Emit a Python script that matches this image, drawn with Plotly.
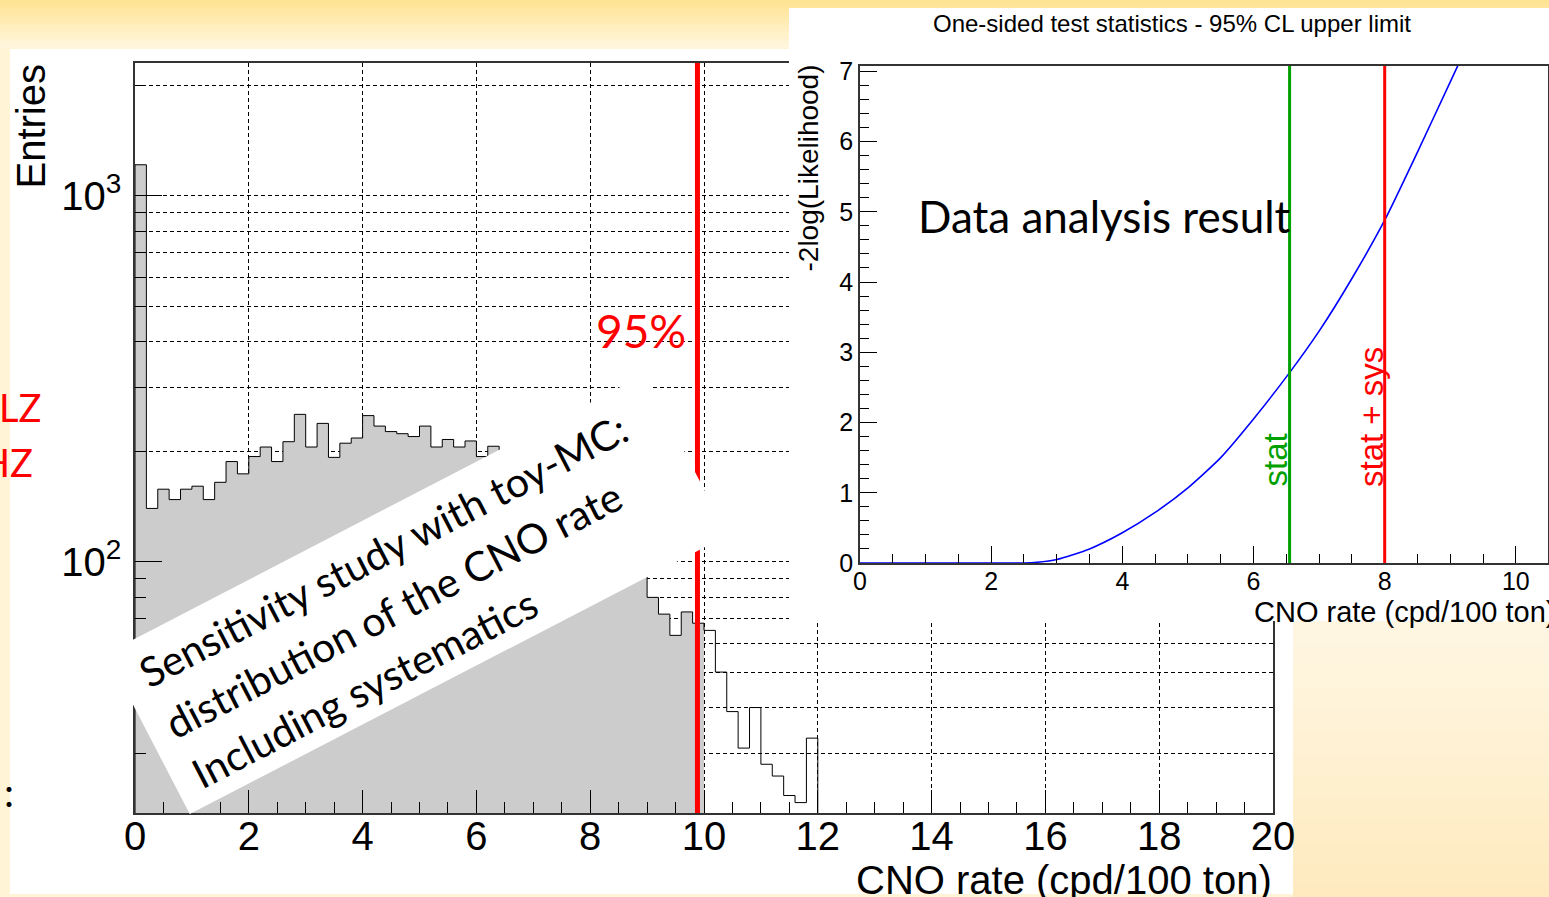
import numpy as np
import plotly.graph_objects as go

W, H = 1549, 897

# ---- left: toy-MC distribution of the fitted CNO rate (0.2 cpd/100 ton bins)
bin_width = 0.2
toy_counts = [
    1216, 140, 158, 148, 158, 161, 148, 165, 188, 174,
    194, 206, 188, 213, 253, 206, 239, 193, 211, 218,
    251, 235, 227, 224, 220, 235, 206, 216, 206, 214,
    194, 207, 201, 196, 189, 183, 176, 167, 158, 149,
    139, 127, 117, 106, 98, 80, 72, 63, 73, 68,
    65, 50, 39, 31, 40, 28, 26, 23, 22, 33,
] + [0] * 40
limit_95 = 9.885          # 95% quantile of toy-MC
y_ticks_major = [100, 1000]
y_ticks_labels = ["10<sup>2</sup>", "10<sup>3</sup>"]
y_ticks_minor = [20, 30, 40, 50, 60, 70, 80, 90,
                 200, 300, 400, 500, 600, 700, 800, 900, 2000]

# ---- inset: -2 log(L) profile from data
cno_scan = [0, 1, 2, 2.5, 2.7, 3.0, 3.5, 4.0, 4.5, 5.0, 5.5, 6.0,
            6.55, 7.0, 7.5, 8.0, 8.5, 9.0, 9.3]
neg2logl = [0, 0, 0, 0, 0.01, 0.05, 0.2, 0.43, 0.72, 1.07, 1.5, 2.05,
            2.71, 3.3, 4.05, 4.88, 5.85, 6.85, 7.45]
limit_stat = 6.55
limit_stat_sys = 8.0

box_lines = ["Sensitivity study with toy-MC:",
             "distribution of the CNO rate",
             "Including systematics"]

ROOT_FONT = "Liberation Sans"
PPT_FONT = "Lato"


def px(x):
    return x / W


def py(y):
    return 1 - y / H


def mix(c1, c2, t):
    return "rgb(%d,%d,%d)" % tuple(round(a + (b - a) * t) for a, b in zip(c1, c2))


# step outline of the histogram, zero bins pushed below the axis range
floor = 1.0
edges = np.arange(len(toy_counts) + 1) * bin_width
step_x, step_y = [0.0], [floor]
for i, c in enumerate(toy_counts):
    c = c if c > 0 else floor
    step_x += [edges[i], edges[i + 1]]
    step_y += [c, c]
n_fill = int(np.sum(edges[:-1] < limit_95))
fill_x = [0.0] + step_x[1:1 + 2 * n_fill] + [edges[n_fill]]
fill_y = [floor] + step_y[1:1 + 2 * n_fill] + [floor]

fig = go.Figure()
fig.add_trace(go.Scatter(x=fill_x, y=fill_y, fill="toself", fillcolor="#CCCCCC",
                         line=dict(width=0), mode="lines", hoverinfo="skip"))
fig.add_trace(go.Scatter(x=step_x, y=step_y, mode="lines",
                         line=dict(color="black", width=1)))
# blank panel that holds the inset
fig.add_trace(go.Scatter(x=[None], y=[None], xaxis="x2", yaxis="y2", hoverinfo="skip"))
fig.add_trace(go.Scatter(x=cno_scan, y=neg2logl, xaxis="x3", yaxis="y3", mode="lines",
                         line=dict(color="#0000FF", width=1.6, shape="spline", smoothing=0.6)))

grid = dict(showgrid=True, gridcolor="black", gridwidth=1, griddash="4px,3px")
frame = dict(showline=True, linecolor="#333333", linewidth=1.5, mirror=True,
             zeroline=False, automargin=False)

shapes = []
# slide background gradients
top_a, top_b = (255, 227, 148), (255, 246, 220)
for k in range(12):
    shapes.append(dict(type="rect", xref="paper", yref="paper", layer="below",
                       x0=0, x1=1, y0=py(k * 4 + 4), y1=py(k * 4),
                       fillcolor=mix(top_a, top_b, k / 11), line_width=0))
rb_a, rb_b = (255, 247, 229), (254, 234, 190)
for k in range(14):
    shapes.append(dict(type="rect", xref="paper", yref="paper", layer="below",
                       x0=px(1293), x1=1, y0=py(600 + (k + 1) * 22), y1=py(600 + k * 22),
                       fillcolor=mix(rb_a, rb_b, k / 13), line_width=0))
shapes.append(dict(type="rect", xref="paper", yref="paper", layer="below",
                   x0=px(10), x1=px(1293), y0=py(894), y1=py(49),
                   fillcolor="white", line_width=0))
# limit lines
shapes.append(dict(type="line", xref="x", yref="y domain", x0=limit_95, x1=limit_95,
                   y0=0, y1=1, line=dict(color="#FF0000", width=5), layer="above"))
shapes.append(dict(type="line", xref="x3", yref="y3 domain", x0=limit_stat, x1=limit_stat,
                   y0=0, y1=1, line=dict(color="#00A000", width=3), layer="above"))
shapes.append(dict(type="line", xref="x3", yref="y3 domain", x0=limit_stat_sys,
                   x1=limit_stat_sys, y0=0, y1=1, line=dict(color="#FF0000", width=3),
                   layer="above"))


def note(text, x, y, size, color="black", family=ROOT_FONT, xa="center", ya="middle",
         angle=0, **kw):
    return dict(text=text, x=px(x), y=py(y), xref="paper", yref="paper", showarrow=False,
                xanchor=xa, yanchor=ya, textangle=angle,
                font=dict(family=family, size=size, color=color), **kw)


annotations = [
    note("Entries", 30, 62, 40, ya="top", angle=-90),
    note("CNO rate (cpd/100 ton)", 1274, 880, 40, xa="right"),
    note("95%", 641, 330, 46, color="#FF0000", family=PPT_FONT),
    note("LZ", 43, 407, 38, color="#FF0000", family=PPT_FONT, xa="right"),
    note("HZ", 35, 462, 38, color="#FF0000", family=PPT_FONT, xa="right"),
    note(":", 9, 792, 40, family=PPT_FONT),
    note("One-sided test statistics - 95% CL upper limit", 1172, 24, 24),
    note("-2log(Likelihood)", 808, 63, 28, ya="top", angle=-90),
    note("CNO rate (cpd/100 ton)", 1557, 612, 29, xa="right"),
    note("Data analysis result", 916, 216, 44, family=PPT_FONT, xa="left"),
    note("stat", 1275, 489, 33, color="#00A000", ya="bottom", angle=-90),
    note("stat + sys", 1371, 489, 33, color="#FF0000", ya="bottom", angle=-90),
]

# rotated white label box laid over the histogram
box_angle = 27.4
box_w, box_h = 606, 181
box_corner = np.array([106.0, 653.2])
u_dir = np.array([np.cos(np.radians(box_angle)), -np.sin(np.radians(box_angle))])
v_dir = np.array([np.sin(np.radians(box_angle)), np.cos(np.radians(box_angle))])
c = box_corner + u_dir * box_w / 2 + v_dir * box_h / 2
annotations.append(note("&nbsp;", c[0], c[1], 10, angle=-box_angle, width=box_w,
                        height=box_h, borderpad=0, borderwidth=0, bgcolor="white"))
text_size, line_w = 41, 570
for i, line in enumerate(box_lines):
    baseline = 52 + 57 * i
    c = box_corner + u_dir * (22 + line_w / 2) + v_dir * (baseline - 0.387 * text_size)
    annotations.append(note(line, c[0], c[1], text_size, family=PPT_FONT, angle=-box_angle,
                            align="left", width=line_w, height=52, borderpad=0))

fig.update_layout(
    width=W, height=H, autosize=False, showlegend=False,
    margin=dict(l=0, r=0, t=0, b=0, pad=0, autoexpand=False),
    paper_bgcolor="rgb(255,244,214)", plot_bgcolor="white",
    xaxis=dict(domain=[px(135), px(1273)], range=[0, 20], anchor="y",
               tick0=0, dtick=2, ticks="inside", ticklen=23, tickcolor="black",
               minor=dict(dtick=0.5, ticks="inside", ticklen=11, tickcolor="black"),
               tickfont=dict(family=ROOT_FONT, size=40, color="black"),
               ticklabelstandoff=-13, **grid, **frame),
    yaxis=dict(type="log", domain=[py(813), py(63)], range=[1.314, 3.363], anchor="x",
               tickvals=y_ticks_major, ticktext=y_ticks_labels,
               ticks="inside", ticklen=27, tickcolor="black",
               minor=dict(tickvals=y_ticks_minor, ticks="inside", ticklen=11,
                          tickcolor="black", **grid),
               tickfont=dict(family=ROOT_FONT, size=40, color="black"),
               ticklabelstandoff=4, **grid, **frame),
    xaxis2=dict(domain=[px(789), 1], range=[0, 1], anchor="y2", visible=False,
                automargin=False),
    yaxis2=dict(domain=[py(621), py(8)], range=[0, 1], anchor="x2", visible=False,
                automargin=False),
    xaxis3=dict(domain=[px(860), px(1548)], range=[0, 10.49], anchor="y3",
                tick0=0, dtick=2, ticks="inside", ticklen=17, tickcolor="black",
                minor=dict(dtick=0.5, ticks="inside", ticklen=9, tickcolor="black"),
                tickfont=dict(family=ROOT_FONT, size=25, color="black"),
                ticklabelstandoff=-5, showgrid=False, **frame),
    yaxis3=dict(domain=[py(563), py(66)], range=[0, 7.075], anchor="x3",
                tick0=0, dtick=1, ticks="inside", ticklen=17, tickcolor="black",
                minor=dict(dtick=0.2, ticks="inside", ticklen=9, tickcolor="black"),
                tickfont=dict(family=ROOT_FONT, size=25, color="black"),
                ticklabelstandoff=0, showgrid=False, **frame),
    shapes=shapes,
    annotations=annotations,
)

fig.write_html("out.html", config=dict(displayModeBar=False),
               post_script="document.body.style.margin='0';"
                           "document.body.style.overflow='hidden';")
